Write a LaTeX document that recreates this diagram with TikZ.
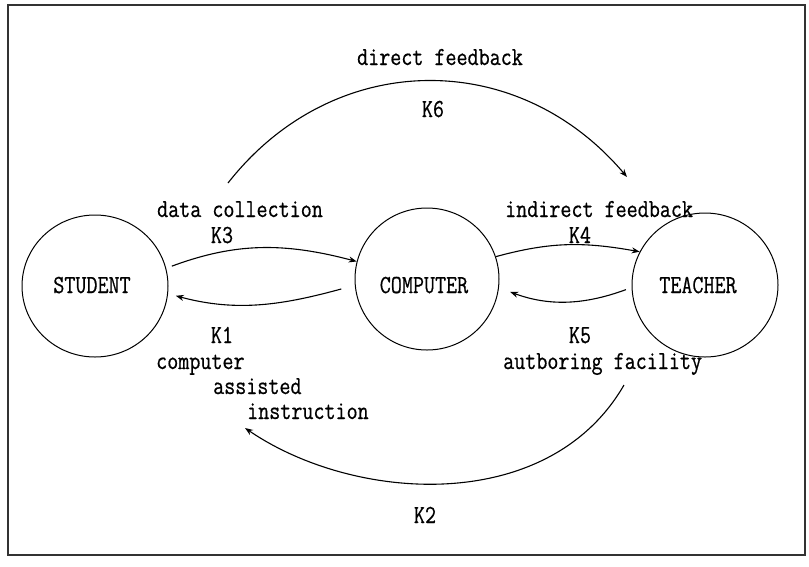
\documentclass[tikz,border=0pt]{standalone}
\usepackage{fontspec}
\newfontfamily\diafont[FakeStretch=0.825,FakeBold=0.6]{Latin Modern Mono}
\usetikzlibrary{shapes.geometric,arrows.meta}
\begin{document}
\begin{tikzpicture}[x=1pt,y=-1pt,
  lbl/.style={font=\diafont\fontsize{26}{28}\selectfont, inner sep=0pt},
  entity/.style={draw, ellipse, line width=1pt, inner sep=0pt},
  flow/.style={line width=1.1pt, -{Stealth[length=8pt,width=6pt]}},
  frame/.style={draw=black!80, line width=1.5pt}
]
\useasboundingbox (0,0) rectangle (809,566);
\draw[frame] (8,5) rectangle (805,555);

% entities
\node[entity, minimum width=146pt, minimum height=142pt] (student) at (95,286) {};
\node[entity, minimum width=144pt, minimum height=142pt] (computer) at (427,279) {};
\node[entity, minimum width=146pt, minimum height=144pt] (teacher) at (705,285) {};
\node[lbl, anchor=base] (tstudent) at (92,293) {STUDENT};
\node[lbl, anchor=base] (tcomputer) at (424,293) {COMPUTER};
\node[lbl, anchor=base] (tteacher) at (698,293) {TEACHER};

% free ends of the long arcs
\coordinate (k6s) at (228,183);
\coordinate (k6e) at (627,177);
\coordinate (k2s) at (624,385);
\coordinate (k2e) at (245,428);

% connectors
\draw[flow, shorten <=6pt] (student.14) .. controls +(70,-26) and +(-72,-19) .. (computer.166);
\draw[flow, shorten <=14pt, shorten >=8pt] (computer.185) .. controls +(-70,19) and +(70,19) .. (student.354);
\draw[flow] (computer.18) .. controls +(55,-15) and +(-56,-10) .. (teacher.153);
\draw[flow, shorten <=6pt, shorten >=12pt] (teacher.182) .. controls +(-49,18) and +(49,18) .. (computer.353);
\draw[flow] (k6s) .. controls +(105,-134) and +(-110,-130) .. (k6e);
\draw[flow] (k2s) .. controls +(-75,130) and +(110,75) .. (k2e);

% labels
\node[lbl, anchor=base] (ldirect) at (440,65) {direct feedback};
\node[lbl, anchor=base] (lk6) at (433,117) {K6};
\node[lbl, anchor=base] (ldata) at (240,217) {data collection};
\node[lbl, anchor=base] (lk3) at (222,243) {K3};
\node[lbl, anchor=base west] (lindirect) at (505,217) {indirect feedback};
\node[lbl, anchor=base] (lk4) at (580,243) {K4};
\node[lbl, anchor=base] (lk1) at (222,343) {K1};
\node[lbl, anchor=base west] (lcomp) at (156,369) {computer};
\node[lbl, anchor=base west] (lassist) at (213,394) {assisted};
\node[lbl, anchor=base west] (linstr) at (247,419) {instruction};
\node[lbl, anchor=base] (lk5) at (580,343) {K5};
\node[lbl, anchor=base west] (lauth) at (503,369) {autboring facility};
\node[lbl, anchor=base] (lk2) at (425,523) {K2};
\end{tikzpicture}
\end{document}
